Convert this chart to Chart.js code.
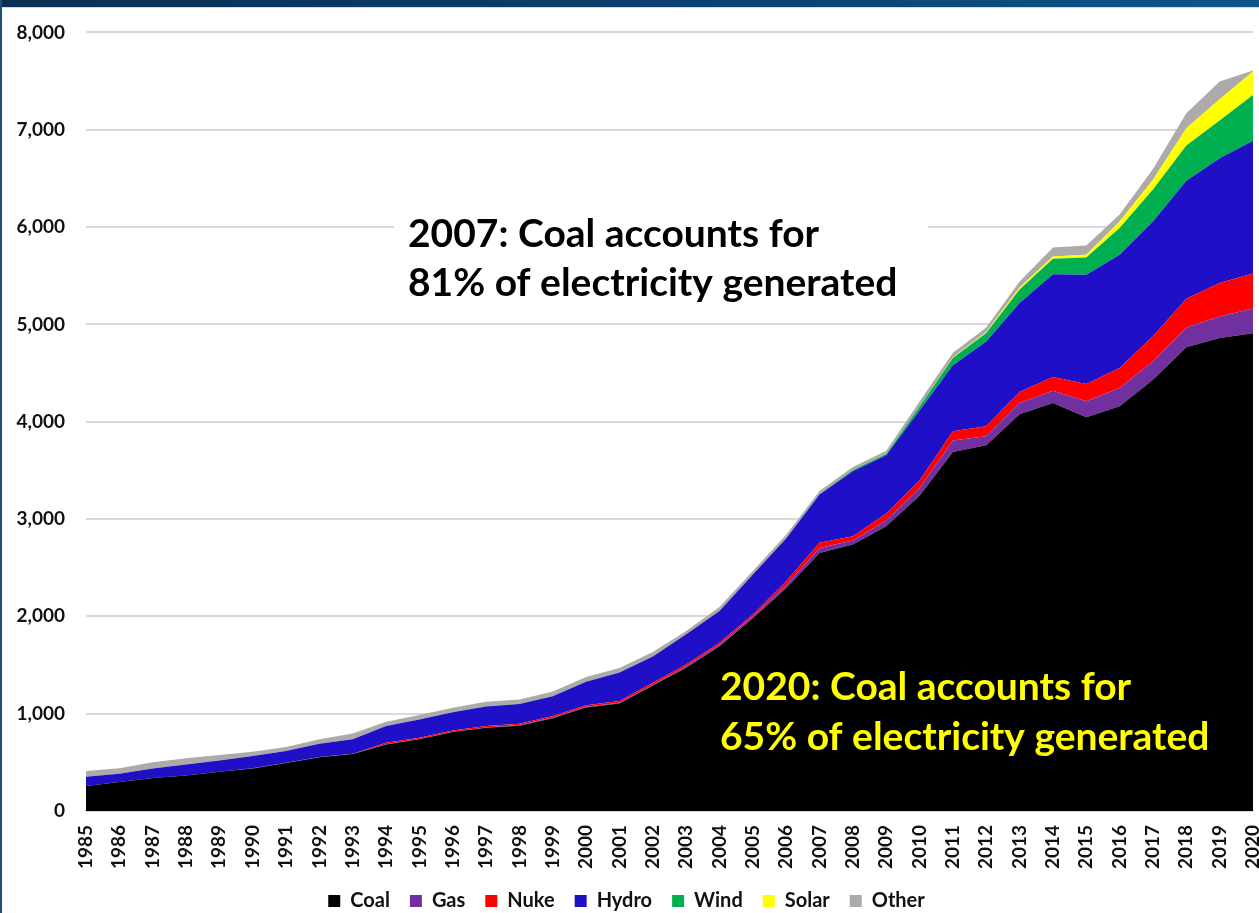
<!DOCTYPE html>
<html>
<head>
<meta charset="utf-8">
<script src="https://cdn.jsdelivr.net/npm/chart.js@4/dist/chart.umd.min.js"></script>
<style>
  html, body { margin: 0; padding: 0; background: #fff; }
  #wrap { position: relative; width: 1259px; height: 913px; overflow: hidden; }
  #topbar { position: absolute; left: 0; top: 0; width: 1259px; height: 7px;
    background: linear-gradient(90deg, #0a3053 0%, #0b3f6b 50%, #0d5689 100%);
    border-bottom: 1px solid #d8d8d8; }
  #leftbar { position: absolute; left: 0; top: 0; width: 2px; height: 913px; background: #1b4d78; }
</style>
</head>
<body>
<div id="wrap">
  <canvas id="gen" width="1259" height="913"></canvas>
  <div id="topbar"></div>
  <div id="leftbar"></div>
</div>
<script>
// China electricity generation by source, TWh
const years = ['1985','1986','1987','1988','1989','1990','1991','1992','1993','1994',
  '1995','1996','1997','1998','1999','2000','2001','2002','2003','2004',
  '2005','2006','2007','2008','2009','2010','2011','2012','2013','2014',
  '2015','2016','2017','2018','2019','2020'];

const coal  = [257, 298, 340, 366, 404, 436, 494, 552, 586, 683,
  737, 811, 855, 877, 954, 1064, 1105, 1290, 1471, 1694,
  1981, 2290, 2652, 2738, 2926, 3240, 3689, 3758, 4076, 4192,
  4045, 4160, 4430, 4764, 4860, 4908];
const gas   = [0, 0, 0, 0, 0, 2, 2, 2, 2, 3,
  3, 3, 4, 6, 6, 6, 7, 8, 15, 15,
  18, 30, 50, 41, 60, 80, 117, 92, 116, 127,
  164, 186, 190, 205, 222, 256];
const nuke  = [0, 0, 0, 0, 0, 0, 0, 0, 0, 15,
  13, 14, 14, 14, 15, 17, 17, 20, 20, 20,
  20, 40, 53, 44, 70, 75, 95, 103, 113, 140,
  178, 206, 257, 295, 342, 360];
const hydro = [95, 85, 96, 113, 116, 127, 120, 137, 148, 172,
  187, 187, 202, 203, 205, 242, 294, 269, 309, 325,
  410, 440, 496, 667, 600, 720, 678, 872, 914, 1057,
  1123, 1164, 1180, 1211, 1284, 1362];
const wind  = [0, 0, 0, 0, 0, 0, 0, 0, 0, 0,
  1, 1, 2, 2, 2, 1, 1, 1, 1, 1,
  2, 4, 6, 13, 15, 40, 75, 86, 140, 158,
  178, 273, 330, 363, 386, 472];
const solar = [0, 0, 0, 0, 0, 0, 0, 0, 0, 0,
  0, 0, 0, 0, 0, 0, 0, 0, 0, 0,
  0, 0, 0, 0, 1, 2, 5, 10, 20, 24,
  28, 68, 100, 178, 219, 240];
const other = [58, 55, 64, 62, 55, 44, 41, 45, 61, 44,
  46, 46, 45, 44, 45, 46, 45, 45, 34, 40,
  34, 35, 30, 32, 30, 50, 50, 48, 62, 92,
  95, 73, 110, 154, 182, 10];

const yTicks = [0, 1000, 2000, 3000, 4000, 5000, 6000, 7000, 8000];

const series = [
  { label: 'Coal',  data: coal,  color: '#000000' },
  { label: 'Gas',   data: gas,   color: '#7030a0' },
  { label: 'Nuke',  data: nuke,  color: '#ff0000' },
  { label: 'Hydro', data: hydro, color: '#1f0fc6' },
  { label: 'Wind',  data: wind,  color: '#00b050' },
  { label: 'Solar', data: solar, color: '#ffff00' },
  { label: 'Other', data: other, color: '#aeaaaa' }
];

const FONT = 'Lato, "Open Sans", sans-serif';

// callout texts drawn on top of the plot
const callouts = {
  id: 'callouts',
  beforeDatasetsDraw(chart) {
    const ctx = chart.ctx;
    ctx.save();
    ctx.fillStyle = '#ffffff';
    ctx.fillRect(394, 203, 534, 108);
    ctx.restore();
  },
  afterDatasetsDraw(chart) {
    const ctx = chart.ctx;
    ctx.save();
    ctx.font = 'bold 39px ' + FONT;
    ctx.textBaseline = 'alphabetic';
    ctx.fillStyle = '#000000';
    ctx.fillText('2007: Coal accounts for', 408, 247);
    ctx.fillText('81% of electricity generated', 408, 296);
    ctx.fillStyle = '#ffff00';
    ctx.fillText('2020: Coal accounts for', 720, 700);
    ctx.fillText('65% of electricity generated', 720, 750);
    ctx.restore();
  }
};

new Chart(document.getElementById('gen'), {
  type: 'line',
  data: {
    labels: years,
    datasets: series.map((s, i) => ({
      label: s.label,
      data: s.data,
      backgroundColor: s.color,
      borderColor: s.color,
      borderWidth: 0,
      pointRadius: 0,
      tension: 0,
      fill: i === 0 ? 'origin' : '-1'
    }))
  },
  options: {
    responsive: false,
    animation: false,
    layout: { padding: { top: 22, right: 6, left: 0, bottom: -8 } },
    plugins: {
      legend: {
        position: 'bottom',
        labels: {
          boxWidth: 12,
          boxHeight: 12,
          padding: 20,
          color: '#111',
          font: { family: FONT, size: 20, weight: 'bold' }
        }
      },
      tooltip: { enabled: false }
    },
    scales: {
      x: {
        offset: false,
        afterFit(scale) {
          scale.height = 60;
          scale.paddingRight = 0;
          scale.paddingLeft = 0;
        },
        grid: { display: false, drawTicks: false },
        border: { display: true, color: '#d9d9d9', width: 2 },
        ticks: {
          autoSkip: false,
          minRotation: 90,
          maxRotation: 90,
          padding: 14,
          color: '#111',
          font: { family: FONT, size: 19, weight: 'bold' }
        }
      },
      y: {
        stacked: true,
        min: 0,
        max: 8000,
        afterFit(scale) { scale.width = 86; },
        afterBuildTicks(scale) { scale.ticks = yTicks.map(v => ({ value: v })); },
        grid: { color: '#d9d9d9', lineWidth: 2, drawTicks: false },
        border: { display: false },
        ticks: {
          padding: 21,
          color: '#111',
          font: { family: FONT, size: 19, weight: 'bold' },
          callback: v => v.toLocaleString('en-US')
        }
      }
    }
  },
  plugins: [callouts]
});
</script>
</body>
</html>
